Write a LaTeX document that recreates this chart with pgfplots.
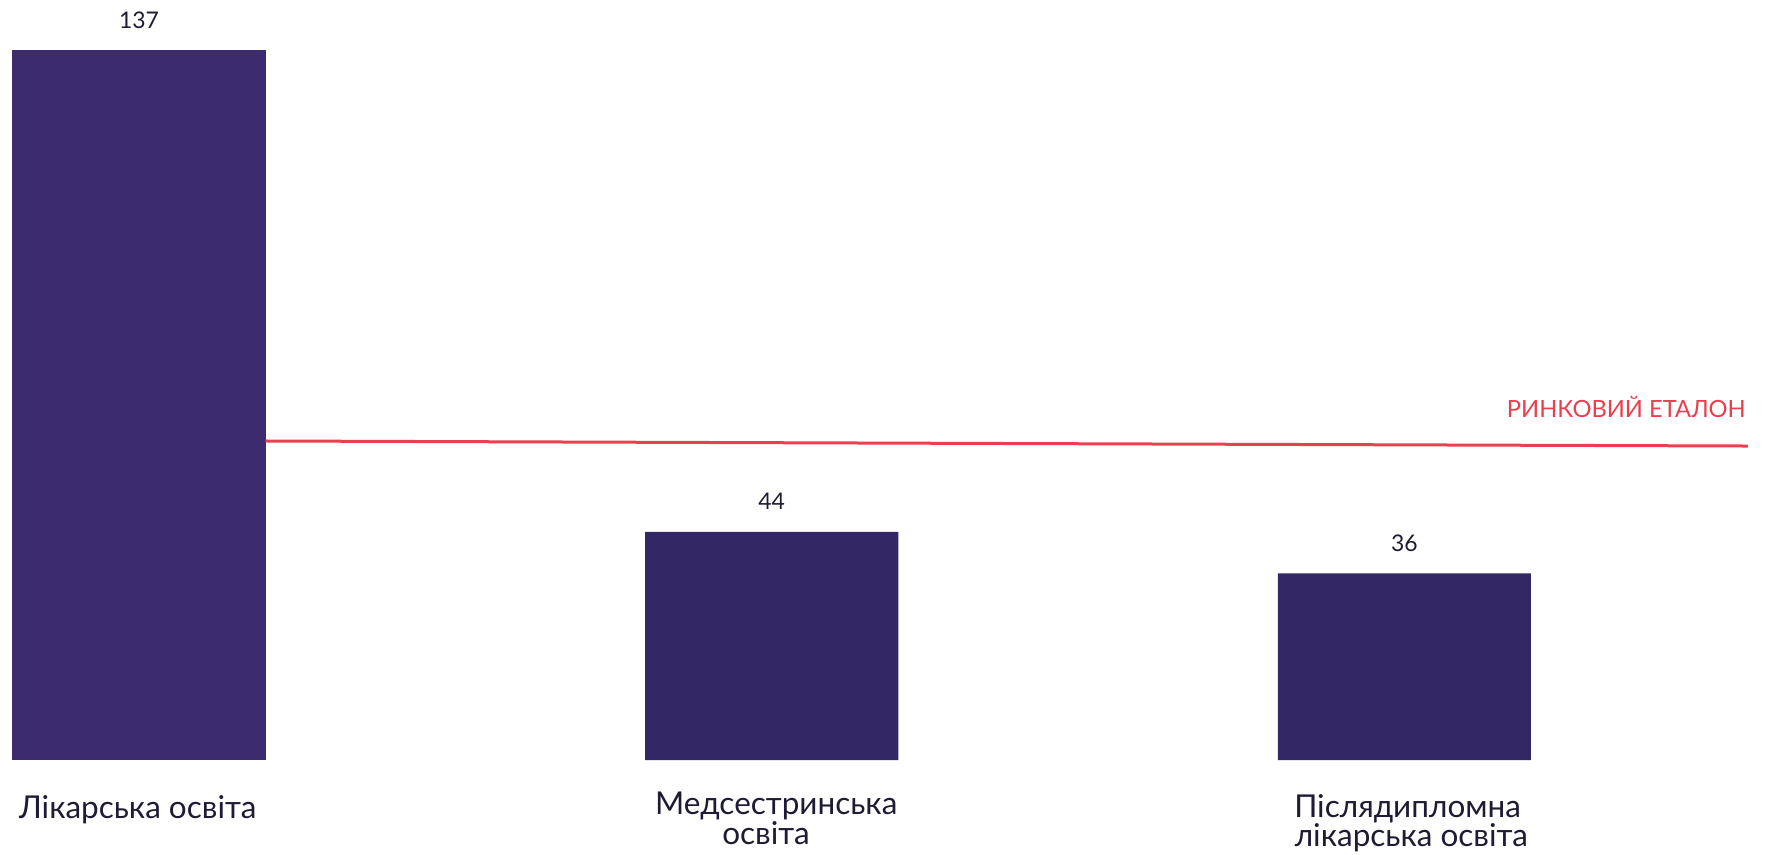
\documentclass[border=0pt]{standalone}
\usepackage{pgfplots}
\pgfplotsset{compat=1.18}
\usepackage{fontspec}
\setmainfont{Lato}
\definecolor{barA}{HTML}{3C2B6E}
\definecolor{barB}{HTML}{332765}
\definecolor{refred}{HTML}{E8404F}
\definecolor{txt}{HTML}{1E1B33}
\begin{document}
\begin{tikzpicture}
\begin{axis}[
  at={(0,0)}, anchor=south west,
  scale only axis, width=883bp, height=427.5bp,
  xmin=-0.2197, xmax=2.5715, ymin=-18.33, ymax=146.66,
  axis line style={draw=none}, xtick=\empty, ytick=\empty,
  clip=false,
  /pgf/number format/assume math mode=true,
  ybar, bar width=0.4, bar shift=0pt,
  nodes near coords,
  nodes near coords style={font=\fontsize{11.5}{13}\selectfont, text=txt, anchor=base, yshift=11bp, inner sep=0pt},
]
\addplot[fill=barA, draw=none] coordinates {(0,137)};
\addplot[fill=barB, draw=none] coordinates {(1,44) (2,36)};
\addplot[refred, line width=1.5bp, sharp plot, nodes near coords=] coordinates {(0.2,61.56) (2.543,60.59)};
\node[anchor=base east, inner sep=0pt, text=refred, font=\fontsize{11.9}{14}\selectfont] at (axis cs:2.540,66.0) {РИНКОВИЙ ЕТАЛОН};
\begin{scope}[every node/.style={anchor=base, inner sep=0pt, text=txt, font=\fontsize{15.8}{18}\selectfont}]
\node at (axis cs:-0.002,-11.19) {Лікарська освіта};
\node at (axis cs:1.007,-10.42) {Медсестринська};
\node at (axis cs:0.991,-16.40) {освіта};
\node at (axis cs:2.005,-11.0) {Післядипломна};
\node at (axis cs:2.011,-16.6) {лікарська освіта};
\end{scope}
\end{axis}
\pgfresetboundingbox
\useasboundingbox (0,0) rectangle (883bp,427.5bp);
\end{tikzpicture}
\end{document}
